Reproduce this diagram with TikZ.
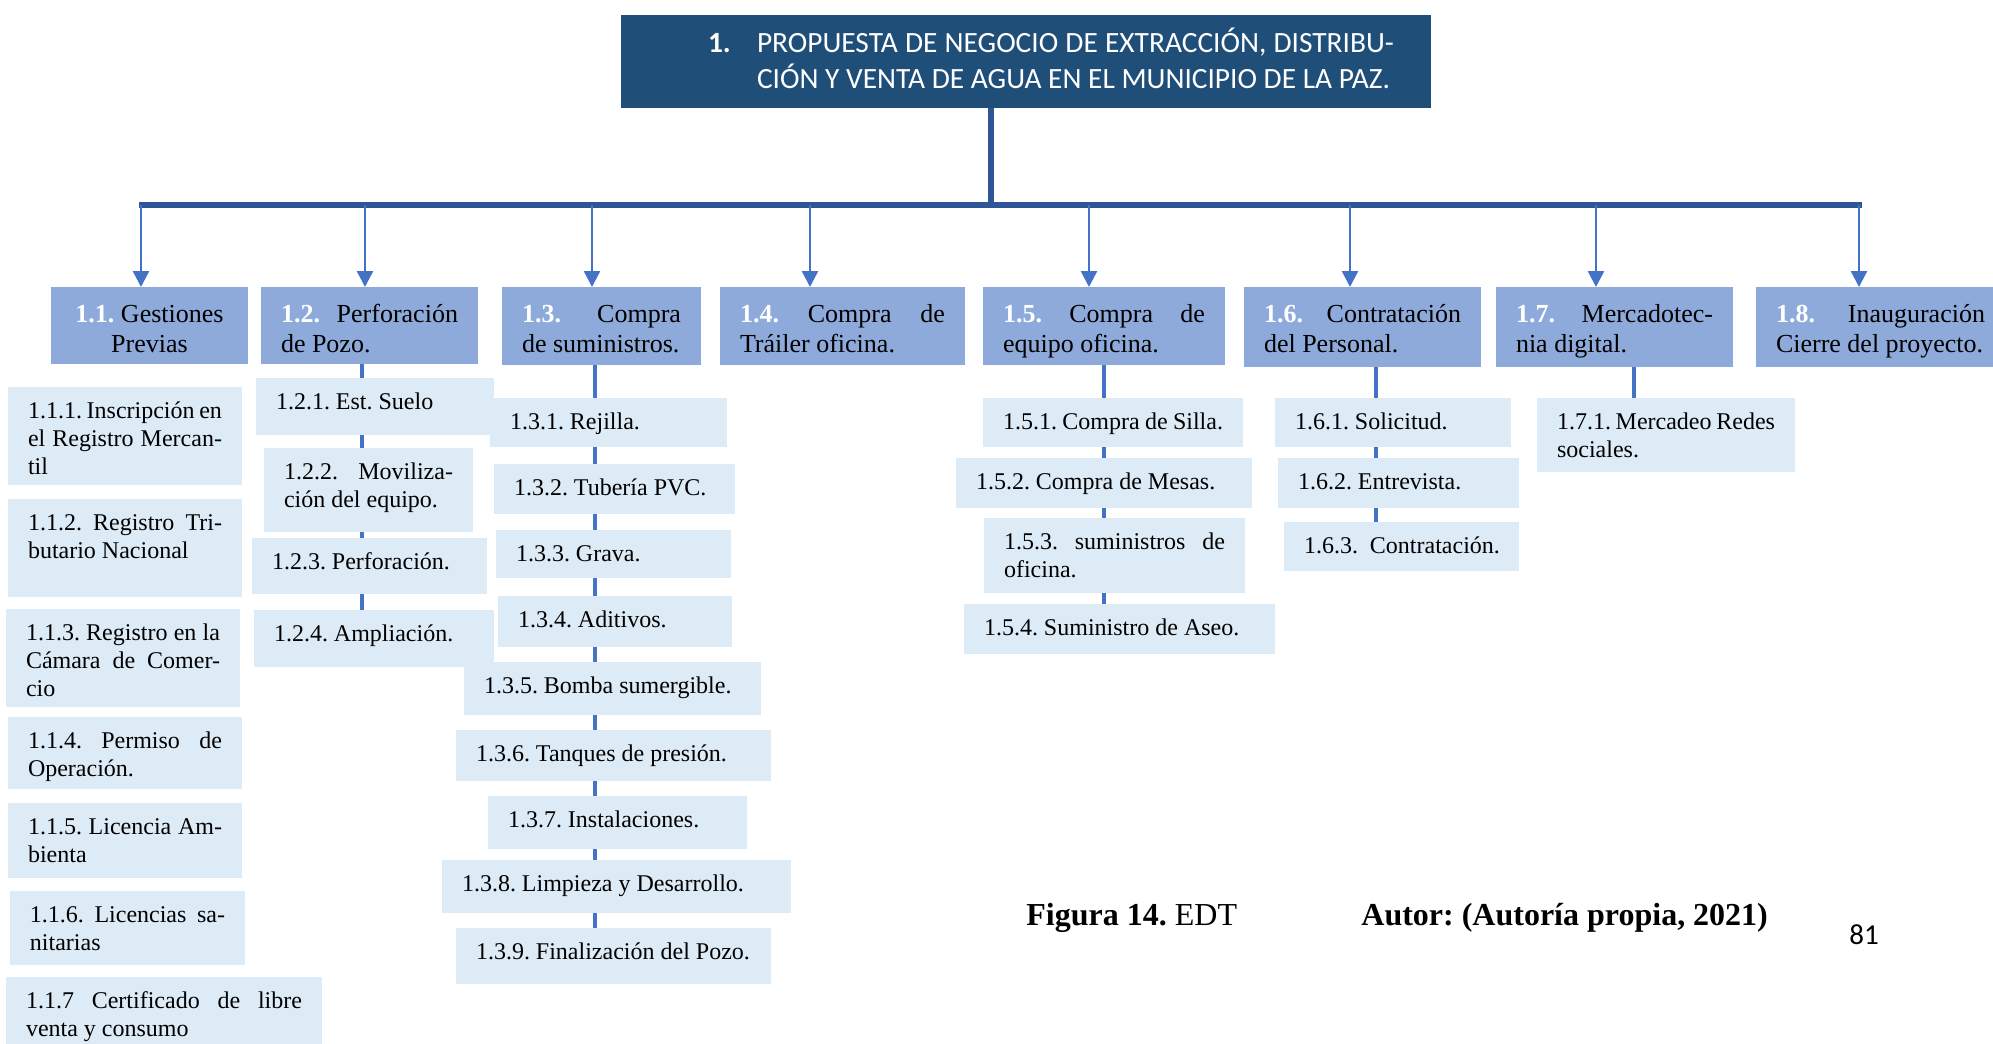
\documentclass[tikz,border=0pt]{standalone}
\usepackage{fontspec}
\setmainfont{Liberation Serif}
\newfontfamily\calibri{Carlito}
\usetikzlibrary{positioning,arrows.meta,backgrounds}
\frenchspacing

\definecolor{azuloscuro}{HTML}{1F4E79}
\definecolor{azulbarra}{HTML}{2F5597}
\definecolor{azulflecha}{HTML}{4472C4}
\definecolor{lavanda}{HTML}{8EAADB}
\definecolor{celeste}{HTML}{DDEBF7}

\newdimen\px \px=0.5pt % one pixel of the original figure
\newcommand\tareafuente{\fontsize{12pt}{14pt}\selectfont\def\altura{31\px}}
\newcommand\fasefuente{\fontsize{13pt}{15pt}\selectfont\def\altura{35\px}}
\newcommand\numfase[1]{\textcolor{white}{\textbf{#1}}}

% box with text: [style]{name}{x}{y}{width}{height}{text}
\newcommand\caja[7][tarea]{%
  \node[#1] (#2) at (#3,#4)
    {\parbox[t][#6\px][t]{#5\px}{\hyphenpenalty=10000\leftskip=20\px\rightskip=20\px\rule{0pt}{\altura}#7}};}

\tikzset{
  caja/.style={anchor=north west, inner sep=0pt, outer sep=0pt},
  tarea/.style={caja, fill=celeste, font=\tareafuente},
  fase/.style={caja, fill=lavanda, font=\fasefuente},
  barra/.style={azulbarra, line width=2.75pt},
  flecha/.style={azulflecha, line width=1.25pt, -{Triangle[width=8pt,length=8pt]}},
  conector/.style={azulflecha, line width=2pt},
}

\begin{document}
\begin{tikzpicture}[x=0.5pt,y=-0.5pt]
  \useasboundingbox (0,0) rectangle (1993,1044);

  % Main title
  \node[caja, fill=azuloscuro, text=white, font=\calibri\fontsize{14.7pt}{17.5pt}\selectfont] (titulo) at (621,15)
    {\parbox[t][93\px][t]{810\px}{\leftskip=87\px\rightskip=37\px\hangindent=49\px\hangafter=1\rule{0pt}{38\px}\makebox[49\px][l]{\textbf{1.}}PROPUESTA DE NEGOCIO DE EXTRACCIÓN, DISTRIBU-\linebreak CIÓN Y VENTA DE AGUA EN EL MUNICIPIO DE LA PAZ.}};

  % First level
  \caja[fase]{p11}{51}{287}{197}{77}{\centering\numfase{1.1.} Gestiones\\Previas}
  \caja[fase]{p12}{261}{287}{217}{77}{\numfase{1.2.} Perforación\linebreak de Pozo.}
  \caja[fase]{p13}{502}{287}{199}{78}{\numfase{1.3.} Compra\linebreak de suministros.}
  \caja[fase]{p14}{720}{287}{245}{78}{\numfase{1.4.} Compra de\linebreak Tráiler oficina.}
  \caja[fase]{p15}{983}{287}{242}{78}{\numfase{1.5.} Compra de\linebreak equipo oficina.}
  \caja[fase]{p16}{1244}{287}{237}{80}{\numfase{1.6.} Contratación\linebreak del Personal.}
  \caja[fase]{p17}{1496}{287}{237}{80}{\numfase{1.7.} Mercadotec-\linebreak nia digital.}
  \caja[fase]{p18}{1756}{287}{249}{80}{\numfase{1.8.} Inauguración\linebreak Cierre del proyecto.}

  % Gestiones previas
  \caja{b111}{8}{387}{234}{98}{1.1.1. Inscripción en\linebreak el Registro Mercan-\linebreak til}
  \caja{b112}{8}{499}{234}{98}{1.1.2. Registro Tri-\linebreak butario Nacional}
  \caja{b113}{6}{609}{234}{98}{1.1.3. Registro en la\linebreak Cámara de Comer-\linebreak cio}
  \caja{b114}{8}{717}{234}{72}{1.1.4. Permiso de\linebreak Operación.}
  \caja{b115}{8}{803}{234}{75}{1.1.5. Licencia Am-\linebreak bienta}
  \caja{b116}{10}{891}{235}{74}{1.1.6. Licencias sa-\linebreak nitarias}
  \caja{b117}{6}{977}{316}{80}{1.1.7 Certificado de libre\linebreak venta y consumo}

  % Perforacion
  \caja{b121}{256}{378}{238}{57}{1.2.1. Est. Suelo}
  \caja{b122}{264}{448}{209}{84}{1.2.2. Moviliza-\linebreak ción del equipo.}
  \caja{b123}{252}{538}{235}{56}{1.2.3. Perforación.}
  \caja{b124}{254}{610}{240}{57}{1.2.4. Ampliación.}

  % Suministros
  \caja{b131}{490}{398}{237}{49}{1.3.1. Rejilla.}
  \caja{b132}{494}{464}{241}{50}{1.3.2. Tubería PVC.}
  \caja{b133}{496}{530}{235}{48}{1.3.3. Grava.}
  \caja{b134}{498}{596}{234}{51}{1.3.4. Aditivos.}
  \caja{b135}{464}{662}{297}{53}{1.3.5. Bomba sumergible.}
  \caja{b136}{456}{730}{315}{51}{1.3.6. Tanques de presión.}
  \caja{b137}{488}{796}{259}{53}{1.3.7. Instalaciones.}
  \caja{b138}{442}{860}{349}{53}{1.3.8. Limpieza y Desarrollo.}
  \caja{b139}{456}{928}{315}{56}{1.3.9. Finalización del Pozo.}

  % Equipo de oficina
  \caja{b151}{983}{398}{260}{49}{1.5.1. Compra de Silla.}
  \caja{b152}{956}{458}{296}{50}{1.5.2. Compra de Mesas.}
  \caja{b153}{984}{518}{261}{75}{1.5.3. suministros de\linebreak oficina.}
  \caja{b154}{964}{604}{311}{50}{1.5.4. Suministro de Aseo.}

  % Personal
  \caja{b161}{1275}{398}{236}{49}{1.6.1. Solicitud.}
  \caja{b162}{1278}{458}{241}{50}{1.6.2. Entrevista.}
  \caja{b163}{1284}{522}{235}{49}{1.6.3.~\hspace{8\px}Contratación.}

  % Mercadotecnia
  \caja{b171}{1537}{398}{258}{74}{1.7.1. Mercadeo Redes\linebreak sociales.}

  % Stem and horizontal bar
  \coordinate (tallo) at (991,205);
  \coordinate (barraizq) at (139,205);
  \coordinate (barrader) at (1862,205);
  \draw[barra] (titulo.south -| tallo) -- (tallo);
  \draw[barra] (barraizq) -- (barrader);

  % Arrows down to each phase
  \foreach \n/\x in {11/141,12/365,13/592,14/810,15/1089,16/1350,17/1596,18/1859} {
    \coordinate (a\n) at (\x,205);
    \draw[flecha] (a\n) -- (p\n.north -| a\n);
  }

  % Columns behind the tasks
  \begin{scope}[on background layer]
    \foreach \p/\u/\x in {12/124/362,13/139/595,15/154/1104,16/163/1376,17/171/1634} {
      \coordinate (c\p) at (\x,0);
      \draw[conector] (p\p.south -| c\p) -- (b\u.north -| c\p);
    }
  \end{scope}

  % Caption
  \node[anchor=base west, inner sep=0pt, font=\fontsize{16pt}{19pt}\selectfont] (figura) at (1026,925) {\textbf{Figura 14.} EDT};
  \node[anchor=base west, inner sep=0pt, font=\fontsize{16pt}{19pt}\selectfont\bfseries] (autor) at (1361,925) {Autor: (Autoría propia, 2021)};
  \node[anchor=base west, inner sep=0pt, font=\calibri\fontsize{14.5pt}{17pt}\selectfont] (pagina) at (1849,944) {81};
\end{tikzpicture}
\end{document}
